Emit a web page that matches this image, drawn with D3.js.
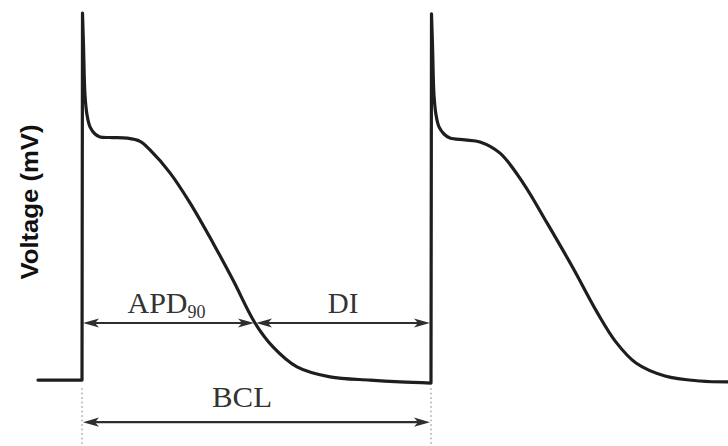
<!DOCTYPE html>
<html>
<head>
<meta charset="utf-8">
<script src="https://cdn.jsdelivr.net/npm/d3@7"></script>
<style>
  html, body { margin: 0; padding: 0; background: #fff; overflow: hidden; }
  svg { display: block; }
</style>
</head>
<body>
<svg id="chart" width="728" height="446"></svg>
<script>
// Two consecutive cardiac action potentials: time (ms) and membrane voltage (mV)
const traceTime = [
  -44, 0, 0.5, 1.5, 3, 5, 8, 13, 18, 30, 45, 58, 68, 88, 108, 131, 151, 173,
  191, 215, 248, 288, 318, 349,
  349.5, 350.5, 352, 354, 357, 362, 368, 383, 398, 418, 441, 465, 491, 515, 534,
  554, 583, 618, 646
];
const traceVoltage = [
  -84.7, -84.7, 40, 29.1, 12.1, 5.4, 1.3, -1.1, -2.1, -2.3, -2.5, -3.6, -6.5, -14.3, -24.5, -38.1, -50.7, -65.3,
  -73.4, -80.2, -83.6, -84.7, -85.3, -85.7,
  39.7, 29.1, 12.1, 5.4, 1.3, -1.1, -2.5, -3.1, -3.8, -7.6, -17.7, -31.3, -46.6, -61.6, -71.8,
  -78.9, -83.3, -85.0, -85.3
];

// Interval annotations (ms) and the voltage levels they are drawn at (mV)
const beatStart = 0;
const apd90 = 173;
const bcl = 349;
const apdLevel = -65.3;
const bclLevel = -99;
const intervalLabels = { apd: "APD", apdSub: "90", di: "DI", bcl: "BCL" };
const yAxisLabel = "Voltage (mV)";

const width = 728, height = 446;
const svg = d3.select("#chart");

const x = d3.scaleLinear().domain([-44, 646]).range([38, 728]);
const y = d3.scaleLinear().domain([-85, 40]).range([381, 13]);

const points = traceTime.map((t, i) => [t, traceVoltage[i]]);

// Dotted guides marking the start of each beat
svg.append("g")
  .selectAll("line")
  .data([beatStart, bcl])
  .join("line")
  .attr("x1", d => x(d)).attr("x2", d => x(d))
  .attr("y1", y(-87.5)).attr("y2", height)
  .attr("stroke", "#8a8a8a")
  .attr("stroke-width", 1.2)
  .attr("stroke-dasharray", "1.5,3");

// Voltage trace: upstrokes are straight, repolarisation phases are smoothed
const straight = d3.line().x(d => x(d[0])).y(d => y(d[1]));
const smooth = d3.line().x(d => x(d[0])).y(d => y(d[1]))
  .curve(d3.curveCatmullRom.alpha(0.5));

const upstrokes = [];
for (let i = 1; i < points.length; i++) {
  if (points[i][1] - points[i - 1][1] > 50) upstrokes.push(i);
}
let d = straight(points.slice(0, upstrokes[0] + 1));
upstrokes.forEach((peak, k) => {
  const end = k + 1 < upstrokes.length ? upstrokes[k + 1] - 1 : points.length - 1;
  d += smooth(points.slice(peak, end + 1));
  if (k + 1 < upstrokes.length) d += straight(points.slice(end, upstrokes[k + 1] + 1));
});

svg.append("path")
  .attr("d", d)
  .attr("fill", "none")
  .attr("stroke", "#1e1e1e")
  .attr("stroke-width", 3.2)
  .attr("stroke-linejoin", "round")
  .attr("stroke-linecap", "round");

// Double-headed interval arrows
const arrowColor = "#2e2e2e";
function arrowHead(g, tx, ty, dir) {
  const L = 16, W = 4.6, notch = 12;
  g.append("path")
    .attr("d", `M${tx},${ty} L${tx - dir * L},${ty - W} L${tx - dir * notch},${ty} L${tx - dir * L},${ty + W} Z`)
    .attr("fill", arrowColor);
}
function interval(t0, t1, level) {
  const g = svg.append("g");
  const x0 = x(t0) + 1, x1 = x(t1) - 1, yy = y(level);
  g.append("line")
    .attr("x1", x0 + 12).attr("x2", x1 - 12)
    .attr("y1", yy).attr("y2", yy)
    .attr("stroke", arrowColor)
    .attr("stroke-width", 2.2);
  arrowHead(g, x0, yy, -1);
  arrowHead(g, x1, yy, 1);
}
interval(beatStart, apd90, apdLevel);
interval(apd90, bcl, apdLevel);
interval(beatStart, bcl, bclLevel);

// Interval labels
const serif = "'Liberation Serif', 'Times New Roman', serif";
const labelColor = "#333";

const apdText = svg.append("text")
  .attr("x", x((beatStart + apd90) / 2) - 2)
  .attr("y", y(apdLevel) - 10)
  .attr("text-anchor", "middle")
  .attr("font-family", serif)
  .attr("font-size", 30)
  .attr("fill", labelColor);
apdText.append("tspan").text(intervalLabels.apd);
apdText.append("tspan")
  .attr("font-size", 18)
  .attr("dy", 5)
  .text(intervalLabels.apdSub);

svg.append("text")
  .attr("x", x((apd90 + bcl) / 2))
  .attr("y", y(apdLevel) - 10)
  .attr("text-anchor", "middle")
  .attr("font-family", serif)
  .attr("font-size", 29)
  .attr("fill", labelColor)
  .text(intervalLabels.di);

svg.append("text")
  .attr("x", x(160))
  .attr("y", y(bclLevel) - 15)
  .attr("text-anchor", "middle")
  .attr("font-family", serif)
  .attr("font-size", 30)
  .attr("textLength", 60)
  .attr("lengthAdjust", "spacingAndGlyphs")
  .attr("fill", labelColor)
  .text(intervalLabels.bcl);

// Vertical axis title
svg.append("text")
  .attr("transform", `translate(38,202) rotate(-90)`)
  .attr("text-anchor", "middle")
  .attr("font-family", "'Liberation Sans', Arial, sans-serif")
  .attr("font-weight", "bold")
  .attr("font-size", 24)
  .attr("textLength", 155)
  .attr("lengthAdjust", "spacingAndGlyphs")
  .attr("fill", "#111")
  .text(yAxisLabel);
</script>
</body>
</html>
